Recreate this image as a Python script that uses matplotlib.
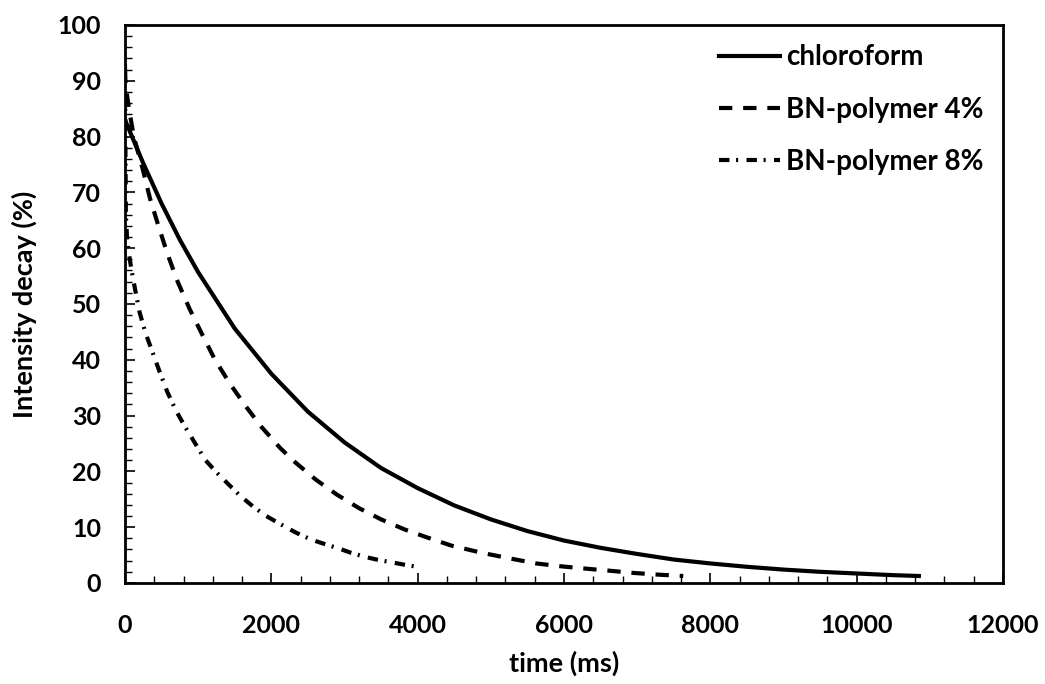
import matplotlib
matplotlib.use("Agg")
import matplotlib.pyplot as plt
from matplotlib.ticker import MultipleLocator

# Decay curves, time in ms and intensity in %
t_chloroform = [0, 250, 500, 750, 1000, 1500, 2000, 2500, 3000, 3500, 4000, 4500,
                5000, 5500, 6000, 6500, 7000, 7500, 8000, 8500, 9000, 9500, 10000,
                10500, 10850]
y_chloroform = [83.0, 75.2, 68.0, 61.5, 55.7, 45.6, 37.5, 30.7, 25.2, 20.6, 17.0, 13.9,
                11.4, 9.3, 7.6, 6.3, 5.2, 4.2, 3.5, 2.9, 2.4, 2.0, 1.7,
                1.4, 1.25]

t_bn4 = [0, 10, 55, 120, 240, 340, 450, 580, 720, 880, 1060, 1230, 1440, 1660,
         1870, 2120, 2320, 2610, 2900, 3200, 3500, 3820, 4120, 4460, 4880, 5260,
         5620, 5950, 6270, 6620, 6950, 7280, 7630]
y_bn4 = [92.0, 89.0, 85.0, 80.0, 74.3, 69.0, 64.3, 59.0, 54.0, 49.2, 44.4, 40.0, 35.6,
         31.5, 27.9, 24.2, 21.7, 18.5, 15.8, 13.4, 11.4, 9.6, 8.2, 6.7, 5.4, 4.4,
         3.5, 3.0, 2.6, 2.2, 1.8, 1.5, 1.25]

t_bn8 = [0, 5, 12, 30, 60, 90, 140, 200, 280, 350, 475, 580, 700, 830, 960, 1100,
         1260, 1390, 1560, 1750, 1930, 2130, 2340, 2540, 2700, 2920, 3090, 3270,
         3440, 3640, 3810, 3990]
y_bn8 = [93.0, 80.0, 66.0, 61.5, 58.5, 56.0, 52.5, 48.5, 44.8, 42.3, 37.8, 34.2, 30.8,
         27.8, 25.0, 22.0, 19.7, 18.0, 15.8, 13.7, 12.0, 10.5, 9.0, 7.8, 7.1, 6.2,
         5.4, 4.7, 4.2, 3.7, 3.3, 2.9]

labels = ["chloroform", "BN-polymer 4%", "BN-polymer 8%"]

plt.rcParams["font.family"] = ["Lato", "DejaVu Sans"]
plt.rcParams["font.weight"] = "bold"

fig = plt.figure(figsize=(10.45, 6.84), dpi=100)
ax = fig.add_axes([0.1196, 0.1477, 0.8402, 0.8158])

lw = 3.0
ax.plot(t_chloroform, y_chloroform, color="black", lw=lw, ls="-", label=labels[0])
ax.plot(t_bn4, y_bn4, color="black", lw=lw, dashes=(3.2, 2.6), label=labels[1])
ax.plot(t_bn8, y_bn8, color="black", lw=lw, dashes=(2.5, 1.6, 0.5, 2.0), label=labels[2])

ax.set_xlim(0, 12000)
ax.set_ylim(0, 100)
ax.xaxis.set_major_locator(MultipleLocator(2000))
ax.xaxis.set_minor_locator(MultipleLocator(400))
ax.yaxis.set_major_locator(MultipleLocator(10))
ax.yaxis.set_minor_locator(MultipleLocator(2))

for s in ax.spines.values():
    s.set_linewidth(2.0)

ax.tick_params(which="major", direction="in", length=7.5, width=1.2, labelsize=18)
ax.tick_params(which="minor", direction="in", length=5, width=1.0)
ax.tick_params(axis="x", which="major", pad=22)
ax.tick_params(axis="y", which="major", pad=17)
for lab in ax.get_xticklabels() + ax.get_yticklabels():
    lab.set_fontweight("bold")

ax.set_xlabel("time (ms)", fontsize=19.5, fontweight="bold", labelpad=10)
ax.set_ylabel("Intensity decay (%)", fontsize=19.5, fontweight="bold", labelpad=15)

ax.legend(loc="upper right", frameon=False, handlelength=2.2,
          handletextpad=0.2, labelspacing=0.95, borderaxespad=0.3,
          prop={"weight": "bold", "size": 20})

fig.savefig("out.png", dpi=100)
